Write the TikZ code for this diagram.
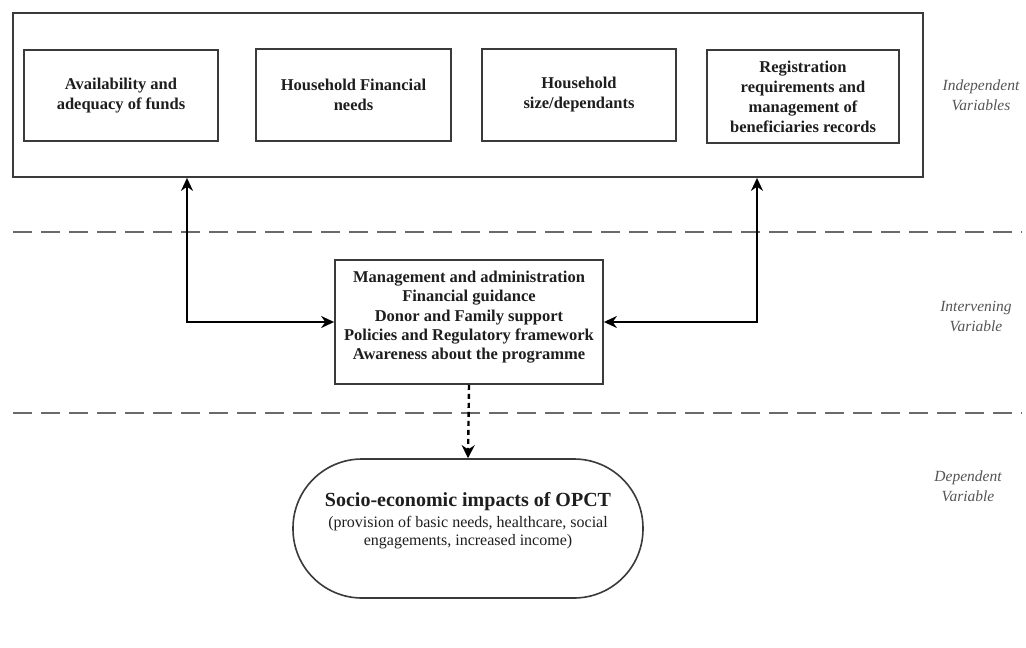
\documentclass[tikz,border=0pt]{standalone}
\usepackage{fontspec}
\setmainfont{Liberation Serif}
\usetikzlibrary{arrows.meta,calc}
\definecolor{boxline}{HTML}{3A3A3A}
\definecolor{txt}{HTML}{1E1E1E}
\definecolor{lbl}{HTML}{555555}
\definecolor{dash}{HTML}{6A6A6A}
\tikzset{
  ivbox/.style={draw=boxline, line width=1.8pt, minimum width=#1, align=center, text=txt, font=\bfseries\fontsize{16.5}{20}\selectfont, inner sep=0pt},
  sidelbl/.style={text=lbl, align=center, font=\itshape\fontsize{15.5}{20}\selectfont},
  sepline/.style={draw=dash, line width=2pt, dash pattern=on 19pt off 9pt},
  conn/.style={draw=black, line width=1.8pt, {Stealth[length=13pt,width=12pt]}-{Stealth[length=13pt,width=12pt]}},
  dconn/.style={draw=black, line width=2.4pt, dash pattern=on 5pt off 4pt, -{Stealth[length=13pt,width=13pt]}}
}
\begin{document}
\begin{tikzpicture}[x=1pt,y=-1pt]
\useasboundingbox (0,0) rectangle (1026,648);
\fill[white] (0,0) rectangle (1026,648);
% outer frame
\node[draw=boxline, line width=1.8pt, minimum width=910pt, minimum height=164pt, inner sep=0pt] (outer) at (468,95) {};
% independent variable boxes
\node[ivbox=194pt, minimum height=91pt] (b1) at (121,95.5) {Availability and\\adequacy of funds};
\node[ivbox=195pt, minimum height=92pt] (b2) at (353.5,95) {Household Financial\\needs};
\node[ivbox=194pt, minimum height=92pt] (b3) at (579,95) {Household\\size/dependants};
\node[ivbox=192pt, minimum height=93pt] (b4) at (803,96.5) {Registration\\requirements and\\management of\\beneficiaries records};
% side labels
\node[sidelbl] (l1) at (981,95) {Independent\\Variables};
\node[sidelbl] (l2) at (976,316) {Intervening\\Variable};
\node[sidelbl] (l3) at (968,486) {Dependent\\Variable};
% separators
\coordinate (s1a) at (13,232); \coordinate (s1b) at (1022,232);
\coordinate (s2a) at (13,413); \coordinate (s2b) at (1022,413);
\draw[sepline] (s1a) -- (s1b);
\draw[sepline] (s2a) -- (s2b);
% intervening box
\node[ivbox=268pt, minimum height=124pt, font=\bfseries\fontsize{16.5}{19.3}\selectfont] (mid) at (469,322) {Management and administration\\Financial guidance\\Donor and Family support\\Policies and Regulatory framework\\Awareness about the programme\\[-6.3pt]};
% dependent stadium
\node[draw=boxline, line width=1.6pt, minimum width=350pt, minimum height=139pt, rounded corners=69pt, align=center, text=txt, inner sep=0pt, font=\fontsize{16}{18.5}\selectfont] (dep) at (468,528.5)
 {{\bfseries\fontsize{20}{22}\selectfont Socio-economic impacts of OPCT}\\[2pt]
  (provision of basic needs, healthcare, social\\
  engagements, increased income)\\[0pt]};
% connectors
\coordinate (xl) at (187,0);
\coordinate (xr) at (757,0);
\draw[conn] (outer.south -| xl) |- (mid.west);
\draw[conn] (outer.south -| xr) |- (mid.east);
\draw[dconn] (mid.south) -- (dep.north);
\end{tikzpicture}
\end{document}
